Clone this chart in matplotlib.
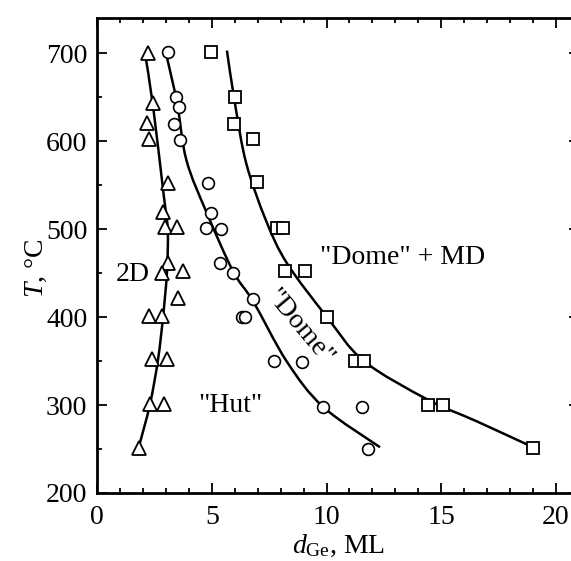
import matplotlib
matplotlib.use("Agg")
import matplotlib.pyplot as plt
from matplotlib.ticker import MultipleLocator
from matplotlib.path import Path
from matplotlib.patches import PathPatch

plt.rcParams['font.family'] = ['Liberation Serif', 'DejaVu Serif']
plt.rcParams['mathtext.fontset'] = 'custom'
plt.rcParams['mathtext.rm'] = 'Liberation Serif'
plt.rcParams['mathtext.it'] = 'Liberation Serif:italic'

# measured points (d_Ge in ML, T in C)
tri_d = [2.22, 2.44, 2.18, 2.27, 3.09, 2.88, 2.96, 3.49, 3.09, 2.83, 3.75, 3.53,
         2.27, 2.83, 2.40, 3.05, 2.31, 2.92, 1.83]
tri_T = [700, 643, 621, 602, 552, 520, 502, 502, 462, 450, 452, 422,
         401, 401, 352, 352, 301, 301, 251]

circ_d = [3.09, 3.44, 3.57, 3.36, 3.62, 4.84, 4.97, 4.75, 5.40, 5.36, 5.93, 6.80,
          6.32, 6.45, 7.71, 8.93, 9.85, 11.55, 11.8]
circ_T = [701, 650, 639, 620, 601, 552, 518, 501, 500, 461, 450, 421,
          400, 400, 350, 349, 298, 298, 250]

sq_d = [4.97, 6.01, 5.97, 6.80, 6.97, 7.84, 8.10, 8.19, 9.06, 10.02, 11.24, 11.63,
        14.42, 15.08, 19.0]
sq_T = [701, 650, 620, 602, 553, 501, 501, 452, 452, 400, 350, 350, 300, 300, 251]

# boundary curves
tri_line_d = [1.85, 2.31, 2.66, 2.88, 3.05, 3.08, 2.9, 2.44, 2.09]
tri_line_T = [255, 301, 352, 401, 452, 500, 540, 640, 700]

circ_line_d = [3.05, 3.49, 3.9, 4.79, 5.93, 6.8, 8.28, 9.85, 12.33]
circ_line_T = [695, 643, 578, 518, 452, 418, 349, 298, 252]

sq_line_d = [5.66, 6.01, 6.5, 7.36, 8.28, 10.02, 11.63, 14.42, 16.5, 19.0]
sq_line_T = [703, 643, 575, 510, 461, 400, 350, 306, 282, 252]


def smooth_curve(ax, xs, ys):
    # draw a smooth line through the read points (Catmull-Rom as Bezier segments)
    pts = list(zip(xs, ys))
    verts = [pts[0]]
    codes = [Path.MOVETO]
    n = len(pts)
    for i in range(n - 1):
        p0 = pts[i - 1] if i > 0 else pts[i]
        p1 = pts[i]
        p2 = pts[i + 1]
        p3 = pts[i + 2] if i + 2 < n else pts[i + 1]
        c1 = (p1[0] + (p2[0] - p0[0]) / 6, p1[1] + (p2[1] - p0[1]) / 6)
        c2 = (p2[0] - (p3[0] - p1[0]) / 6, p2[1] - (p3[1] - p1[1]) / 6)
        verts += [c1, c2, p2]
        codes += [Path.CURVE4] * 3
    ax.add_patch(PathPatch(Path(verts, codes), facecolor='none', edgecolor='black', lw=1.8))


fig = plt.figure(figsize=(5.71, 5.61), dpi=100)
ax = fig.add_axes([97 / 571, 68 / 561, (579 - 97) / 571, (493 - 18) / 561])

smooth_curve(ax, tri_line_d, tri_line_T)
smooth_curve(ax, circ_line_d, circ_line_T)
smooth_curve(ax, sq_line_d, sq_line_T)

ax.plot(tri_d, tri_T, linestyle='none', marker='^', ms=10.5, mfc='white', mec='black', mew=1.3)
ax.plot(circ_d, circ_T, linestyle='none', marker='o', ms=8.5, mfc='white', mec='black', mew=1.2)
ax.plot(sq_d, sq_T, linestyle='none', marker='s', ms=9, mfc='white', mec='black', mew=1.3)

ax.set_xlim(0, 21)
ax.set_ylim(200, 740)
ax.xaxis.set_major_locator(MultipleLocator(5))
ax.xaxis.set_minor_locator(MultipleLocator(1))
ax.yaxis.set_major_locator(MultipleLocator(100))
ax.yaxis.set_minor_locator(MultipleLocator(50))
ax.tick_params(which='both', direction='in', top=True, right=True, width=1.3, labelsize=20)
ax.tick_params(which='major', length=7)
ax.tick_params(axis='x', which='major', pad=9)
ax.tick_params(axis='y', which='major', pad=7)
ax.tick_params(which='minor', length=3.5)
for s in ax.spines.values():
    s.set_linewidth(2.0)

ax.set_xlabel(r'$d_{\mathrm{Ge}}$, ML', fontsize=20, labelpad=2)
ax.set_ylabel(r'$T$, °C', fontsize=20)
ax.yaxis.set_label_coords(-0.10, 0.474)

fs = 20
ax.text(1.57, 448, '2D', fontsize=fs, ha='center', va='center')
ax.text(5.8, 299, '"Hut"', fontsize=fs, ha='center', va='center')
ax.text(8.8, 388, '"Dome"', fontsize=fs, ha='center', va='center', rotation=-50,
        rotation_mode='anchor')
ax.text(13.33, 468, '"Dome" + MD', fontsize=fs, ha='center', va='center')

fig.savefig('out.png', dpi=100)
